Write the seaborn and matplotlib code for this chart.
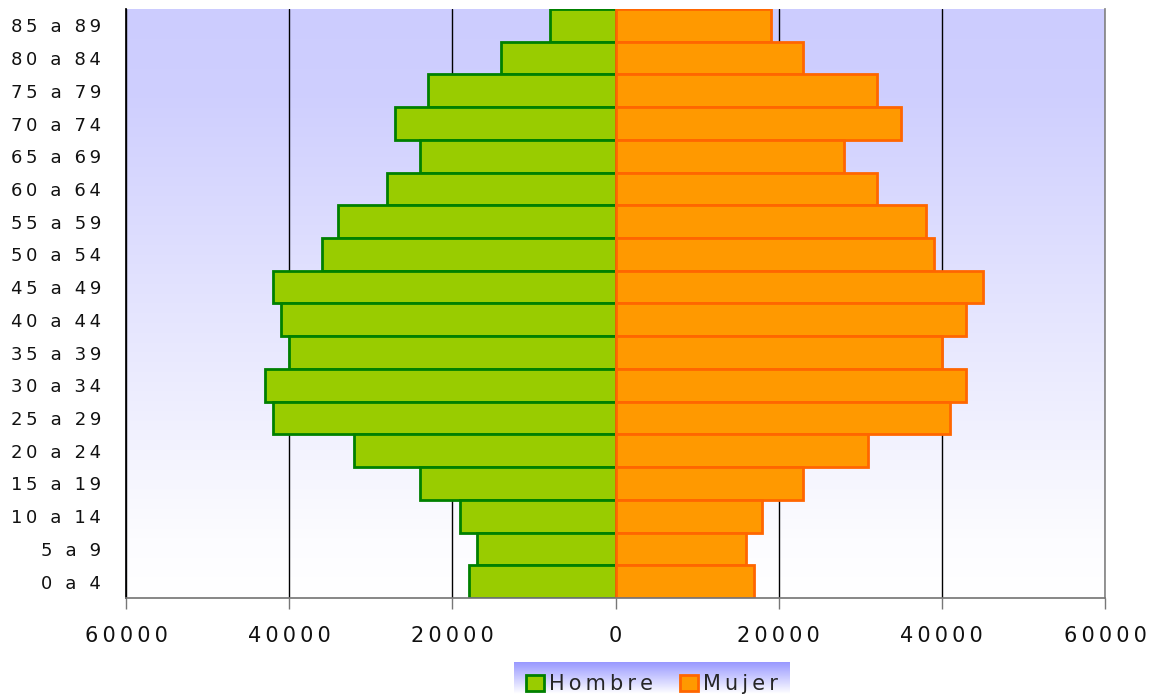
import numpy as np
import pandas as pd
import seaborn as sns
import matplotlib.pyplot as plt
from matplotlib.colors import LinearSegmentedColormap
from matplotlib.patches import Patch

ages = ["0 a 4", "5 a 9", "10 a 14", "15 a 19", "20 a 24", "25 a 29", "30 a 34",
        "35 a 39", "40 a 44", "45 a 49", "50 a 54", "55 a 59", "60 a 64",
        "65 a 69", "70 a 74", "75 a 79", "80 a 84", "85 a 89"]
hombre = [18000, 17000, 19000, 24000, 32000, 42000, 43000, 40000, 41000,
          42000, 36000, 34000, 28000, 24000, 27000, 23000, 14000, 8000]
mujer = [17000, 16000, 18000, 23000, 31000, 41000, 43000, 40000, 43000,
         45000, 39000, 38000, 32000, 28000, 35000, 32000, 23000, 19000]
xticks = [-60000, -40000, -20000, 0, 20000, 40000, 60000]


def spaced(s):
    # wide letter spacing like the original
    return "\u2009".join(s)


sns.set_theme(style="white")
plt.rcParams["font.family"] = ["DejaVu Sans"]

df = pd.DataFrame({"edad": ages, "Hombre": hombre, "Mujer": mujer})
order = ages[::-1]

fig = plt.figure(figsize=(11.56, 6.94), dpi=100)
ax = fig.add_axes([126 / 1156, 1 - 598 / 694, (1105 - 126) / 1156, (598 - 9) / 694])

# background gradient: lavender on top, fading to white near the bottom
grad = LinearSegmentedColormap.from_list(
    "bg", [(0, "#CCCCFF"), (0.15, "#CFCFFE"), (0.9, "#FCFCFF"), (1, "#FFFFFF")])
ax.imshow(np.linspace(0, 1, 256).reshape(-1, 1), cmap=grad, aspect="auto",
          extent=[-60000, 60000, len(ages) - 0.5, -0.5], zorder=0)

for x in xticks:
    ax.axvline(x, color="black", lw=1, zorder=1)

sns.barplot(data=df.assign(Hombre=-df["Hombre"]), x="Hombre", y="edad", order=order,
            orient="h", width=1.0, color="#99CC00", edgecolor="#008000",
            linewidth=2, saturation=1, ax=ax, zorder=2)
sns.barplot(data=df, x="Mujer", y="edad", order=order, orient="h", width=1.0,
            color="#FF9900", edgecolor="#FF6600", linewidth=2, saturation=1,
            ax=ax, zorder=2)

ax.set_xlim(-60000, 60000)
ax.set_ylim(len(ages) - 0.5, -0.5)
ax.set_xticks(xticks)
ax.set_xticklabels([spaced(str(abs(v))) for v in xticks], fontsize=15, color="#111111")
ax.set_yticks(range(len(order)))
ax.set_yticklabels([spaced(a) for a in order], fontsize=13, color="#111111")
ax.set_xlabel("")
ax.set_ylabel("")
ax.tick_params(axis="x", bottom=True, length=8, width=1, color="#777777", pad=12)
ax.tick_params(axis="y", left=False, pad=12)
ax.spines["top"].set_visible(False)
ax.spines["bottom"].set_color("#777777")
ax.spines["left"].set_color("black")
ax.spines["right"].set_color("#888888")

# legend box with gradient
lax = fig.add_axes([514 / 1156, 0, (790 - 514) / 1156, (694 - 662) / 694])
lgrad = LinearSegmentedColormap.from_list("lg", ["#9999FF", "#FFFFFF"])
lax.imshow(np.linspace(0, 1, 64).reshape(-1, 1), cmap=lgrad, aspect="auto",
           extent=[0, 1, 0, 1])
lax.set_axis_off()
handles = [Patch(facecolor="#99CC00", edgecolor="#008000", linewidth=2, label=spaced("Hombre")),
           Patch(facecolor="#FF9900", edgecolor="#FF6600", linewidth=2, label=spaced("Mujer"))]
lax.legend(handles=handles, loc="center", ncol=2, frameon=False, fontsize=15,
           handlelength=0.85, handleheight=0.85, handletextpad=0.25, columnspacing=1.3,
           bbox_to_anchor=(0.5, 0.3))

fig.savefig("out.png", dpi=100)
